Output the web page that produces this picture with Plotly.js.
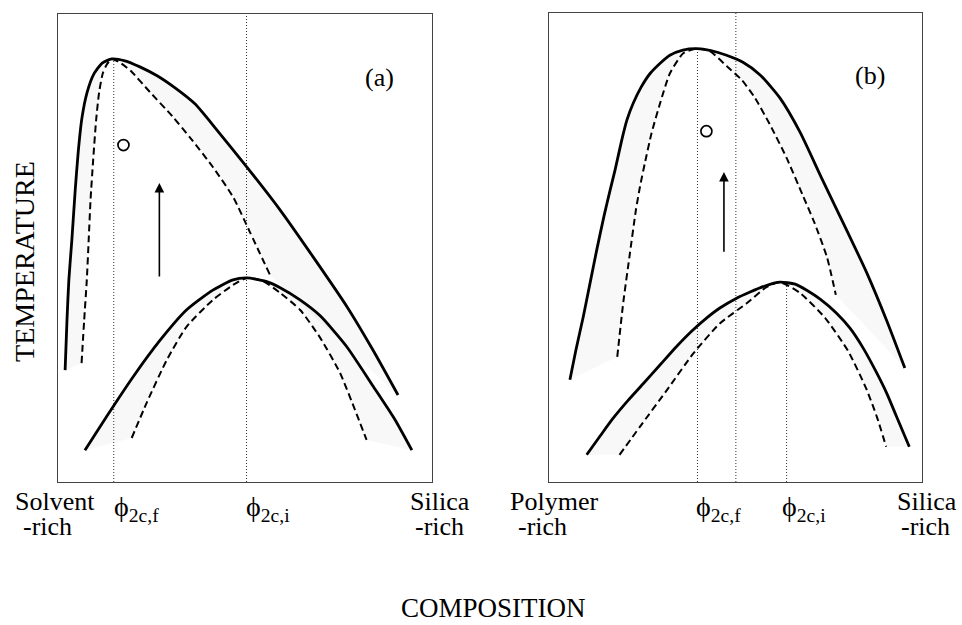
<!DOCTYPE html>
<html>
<head>
<meta charset="utf-8">
<script src="https://cdn.plot.ly/plotly-3.0.1.min.js"></script>
<style>html,body{margin:0;padding:0;background:#fff;}#plot{width:962px;height:625px;}</style>
</head>
<body>
<div id="plot"></div>
<script>
// ---------- Panel (a): composition (0 = solvent-rich, 1 = silica-rich), temperature (relative) ----------
const upperSolidA_x = [0.019,0.024,0.029,0.037,0.046,0.054,0.064,0.078,0.096,0.118,0.144,0.179,0.219,0.265,0.313,0.366,0.425,0.505,0.594,0.682,0.773,0.842,0.909];
const upperSolidA_y = [0.239,0.346,0.432,0.517,0.624,0.705,0.778,0.833,0.872,0.895,0.904,0.900,0.887,0.868,0.842,0.808,0.752,0.673,0.581,0.481,0.374,0.282,0.186];
const upperDashA_x = [0.063,0.070,0.077,0.082,0.087,0.094,0.102,0.110,0.120,0.131,0.144,0.168,0.195,0.246,0.305,0.358,0.414,0.468,0.513,0.567];
const upperDashA_y = [0.254,0.346,0.432,0.517,0.603,0.688,0.774,0.833,0.874,0.893,0.904,0.895,0.878,0.833,0.782,0.731,0.673,0.609,0.534,0.442];
const lowerSolidA_x = [0.072,0.130,0.201,0.273,0.344,0.414,0.468,0.505,0.558,0.594,0.647,0.701,0.772,0.843,0.901,0.946];
const lowerSolidA_y = [0.068,0.140,0.225,0.303,0.368,0.410,0.432,0.436,0.428,0.415,0.389,0.355,0.289,0.204,0.133,0.068];
const lowerDashA_x = [0.197,0.237,0.291,0.344,0.414,0.468,0.505,0.546,0.594,0.647,0.701,0.754,0.794,0.825];
const lowerDashA_y = [0.094,0.169,0.261,0.332,0.389,0.421,0.436,0.430,0.404,0.368,0.308,0.233,0.154,0.090];
const dottedA_x = [0.149, 0.504];
const dottedA_top = [0.904, 1.0];
const pointA = {x: [0.175], y: [0.720]};
const arrowA = {x: 0.271, yFrom: 0.436, yTo: 0.639};

// ---------- Panel (b): composition (0 = polymer-rich, 1 = silica-rich) ----------
const upperSolidB_x = [0.056,0.072,0.092,0.110,0.128,0.148,0.164,0.177,0.195,0.209,0.226,0.247,0.271,0.298,0.324,0.359,0.396,0.434,0.476,0.520,0.566,0.619,0.673,0.731,0.798,0.852,0.905,0.954];
const upperSolidB_y = [0.218,0.281,0.353,0.424,0.495,0.569,0.623,0.665,0.729,0.772,0.808,0.842,0.871,0.893,0.910,0.921,0.924,0.920,0.910,0.895,0.868,0.819,0.746,0.648,0.537,0.446,0.345,0.243];
const upperDashB_x = [0.183,0.199,0.217,0.233,0.244,0.257,0.275,0.298,0.324,0.360,0.396,0.432,0.476,0.517,0.552,0.593,0.637,0.681,0.711,0.745,0.769];
const upperDashB_y = [0.267,0.382,0.488,0.580,0.630,0.680,0.744,0.808,0.871,0.914,0.924,0.918,0.887,0.857,0.819,0.761,0.691,0.610,0.554,0.480,0.399];
const lowerSolidB_x = [0.101,0.137,0.172,0.212,0.253,0.298,0.342,0.383,0.423,0.458,0.503,0.539,0.579,0.619,0.660,0.691,0.727,0.771,0.807,0.842,0.879,0.905,0.930,0.966];
const lowerSolidB_y = [0.058,0.098,0.136,0.174,0.210,0.250,0.289,0.322,0.350,0.371,0.392,0.405,0.418,0.426,0.422,0.409,0.390,0.360,0.328,0.286,0.232,0.190,0.143,0.075];
const lowerDashB_x = [0.189,0.244,0.316,0.387,0.458,0.530,0.584,0.619,0.673,0.740,0.802,0.850,0.879,0.904];
const lowerDashB_y = [0.058,0.118,0.196,0.274,0.338,0.381,0.416,0.426,0.403,0.350,0.279,0.200,0.139,0.075];
const dottedB_x = [0.398, 0.501, 0.637];
const dottedB_top = [0.924, 1.0, 0.426];
const pointB = {x: [0.422], y: [0.748]};
const arrowB = {x: 0.469, yFrom: 0.488, yTo: 0.661};

// ---------- Text ----------
const panelLabels = ['(a)', '(b)'];
const axisTitleX = 'COMPOSITION';
const axisTitleY = 'TEMPERATURE';
const endLabelsA = [['Solvent', '-rich'], ['Silica', '-rich']];
const endLabelsB = [['Polymer', '-rich'], ['Silica', '-rich']];
const phiLabels = ['\u03D5<sub>2c,f</sub>', '\u03D5<sub>2c,i</sub>'];

const FONT = 'Liberation Serif, Times New Roman, serif';
const traces = [];

function fillBetween(sx, sy, dx, dy, xa, ya) {
  return {
    x: sx.concat(dx.slice().reverse()), y: sy.concat(dy.slice().reverse()),
    xaxis: xa, yaxis: ya, mode: 'lines', fill: 'toself',
    fillcolor: 'rgba(120,120,120,0.055)', line: {width: 0}, hoverinfo: 'skip'
  };
}
function curve(x, y, xa, ya, dashed) {
  return {
    x: x, y: y, xaxis: xa, yaxis: ya, mode: 'lines',
    line: {color: '#000', width: dashed ? 2 : 2.8, dash: dashed ? '7px,4px' : 'solid', shape: 'spline', smoothing: 0.6},
    hoverinfo: 'skip'
  };
}
function dotted(xs, tops, xa, ya) {
  xs.forEach((v, i) => traces.push({
    x: [v, v], y: [0, tops[i]], xaxis: xa, yaxis: ya, mode: 'lines',
    line: {color: '#333', width: 1, dash: '1px,2px'}, hoverinfo: 'skip'
  }));
}

// panel a
traces.push(fillBetween(upperSolidA_x, upperSolidA_y, upperDashA_x, upperDashA_y, 'x', 'y'));
traces.push(fillBetween(lowerSolidA_x, lowerSolidA_y, lowerDashA_x, lowerDashA_y, 'x', 'y'));
dotted(dottedA_x, dottedA_top, 'x', 'y');
traces.push(curve(upperSolidA_x, upperSolidA_y, 'x', 'y', false));
traces.push(curve(upperDashA_x, upperDashA_y, 'x', 'y', true));
traces.push(curve(lowerSolidA_x, lowerSolidA_y, 'x', 'y', false));
traces.push(curve(lowerDashA_x, lowerDashA_y, 'x', 'y', true));
traces.push({x: pointA.x, y: pointA.y, xaxis: 'x', yaxis: 'y', mode: 'markers',
  marker: {symbol: 'circle-open', size: 11, color: '#000', line: {width: 1.7, color: '#000'}}});

// panel b
traces.push(fillBetween(upperSolidB_x, upperSolidB_y, upperDashB_x, upperDashB_y, 'x2', 'y2'));
traces.push(fillBetween(lowerSolidB_x, lowerSolidB_y, lowerDashB_x, lowerDashB_y, 'x2', 'y2'));
dotted(dottedB_x, dottedB_top, 'x2', 'y2');
traces.push(curve(upperSolidB_x, upperSolidB_y, 'x2', 'y2', false));
traces.push(curve(upperDashB_x, upperDashB_y, 'x2', 'y2', true));
traces.push(curve(lowerSolidB_x, lowerSolidB_y, 'x2', 'y2', false));
traces.push(curve(lowerDashB_x, lowerDashB_y, 'x2', 'y2', true));
traces.push({x: pointB.x, y: pointB.y, xaxis: 'x2', yaxis: 'y2', mode: 'markers',
  marker: {symbol: 'circle-open', size: 11, color: '#000', line: {width: 1.7, color: '#000'}}});

const axBase = {range: [0, 1], showgrid: false, zeroline: false, showticklabels: false, ticks: '',
  showline: true, mirror: true, linecolor: '#444', linewidth: 1.2, fixedrange: true};

function txt(text, x, y, size, extra) {
  return Object.assign({text: text, x: x, y: y, xref: 'paper', yref: 'paper', showarrow: false,
    xanchor: 'center', yanchor: 'middle', font: {family: FONT, size: size, color: '#000'}}, extra || {});
}
function arrow(a, xa, ya) {
  return {x: a.x, y: a.yTo, ax: a.x, ay: a.yFrom, xref: xa, yref: ya, axref: xa, ayref: ya,
    showarrow: true, arrowhead: 2, arrowsize: 1.2, arrowwidth: 1.6, arrowcolor: '#000', text: ''};
}

const annotations = [
  txt(panelLabels[0], 0.395, 0.876, 26),
  txt(panelLabels[1], 0.9044, 0.880, 26),
  txt(axisTitleY, 0.026, 0.581, 28, {textangle: -90}),
  txt(axisTitleX, 0.5135, 0.0, 27, {yanchor: 'bottom'}),
  txt(endLabelsA[0][0], 0.0572, 0.198, 26), txt(endLabelsA[0][1], 0.0489, 0.158, 26),
  txt(endLabelsA[1][0], 0.4569, 0.198, 26), txt(endLabelsA[1][1], 0.4569, 0.158, 26),
  txt(endLabelsB[0][0], 0.5759, 0.198, 26), txt(endLabelsB[0][1], 0.5644, 0.158, 26),
  txt(endLabelsB[1][0], 0.9636, 0.198, 26), txt(endLabelsB[1][1], 0.9621, 0.158, 26),
  txt(phiLabels[0], 0.1419, 0.186, 28), txt(phiLabels[1], 0.2791, 0.186, 28),
  txt(phiLabels[0], 0.7469, 0.186, 28), txt(phiLabels[1], 0.8353, 0.186, 28),
  arrow(arrowA, 'x', 'y'), arrow(arrowB, 'x2', 'y2')
];

const layout = {
  width: 962, height: 625, margin: {l: 0, r: 0, t: 0, b: 0},
  paper_bgcolor: '#fff', plot_bgcolor: '#fff', showlegend: false,
  xaxis: Object.assign({}, axBase, {domain: [0.0603, 0.4491], anchor: 'y'}),
  yaxis: Object.assign({}, axBase, {domain: [0.2288, 0.9776], anchor: 'x'}),
  xaxis2: Object.assign({}, axBase, {domain: [0.5707, 0.9584], anchor: 'y2'}),
  yaxis2: Object.assign({}, axBase, {domain: [0.2288, 0.9792], anchor: 'x2'}),
  annotations: annotations
};

Plotly.newPlot('plot', traces, layout, {staticPlot: true, displayModeBar: false});
</script>
</body>
</html>
